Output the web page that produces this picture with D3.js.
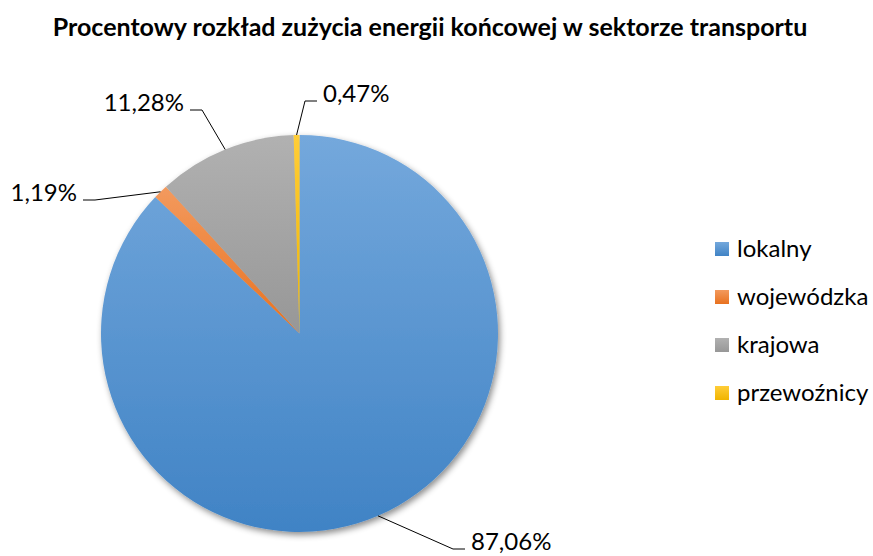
<!DOCTYPE html>
<meta charset="utf-8">
<script src="https://cdn.jsdelivr.net/npm/d3@7"></script>
<style>
  body { margin: 0; background: #fff; }
  text { font-family: Lato, "Liberation Sans", sans-serif; fill: #000; }
</style>
<div id="vis"></div>
<script>
// data
const categories = ["lokalny", "wojewódzka", "krajowa", "przewoźnicy"];
const shares = [87.06, 1.19, 11.28, 0.47];
const labels = ["87,06%", "1,19%", "11,28%", "0,47%"];
const colorTop = ["#74a8dc", "#f39a5e", "#b1b1b1", "#ffcd38"];
const colorBottom = ["#4083c5", "#e8711f", "#979797", "#f0b400"];

const title = "Procentowy rozkład zużycia energii końcowej w sektorze transportu";

const width = 873, height = 556;
const cx = 299.5, cy = 333.5, radius = 198.5;

// label placement: side of the leader and where the text sits
const labelLayout = [
  {side: "right", x: 471, y: 549},
  {side: "left",  x: 77,  y: 200},
  {side: "left",  x: 184, y: 110},
  {side: "right", x: 323, y: 101}
];

const svg = d3.select("#vis").append("svg")
  .attr("width", width)
  .attr("height", height);

const defs = svg.append("defs");

categories.forEach((c, i) => {
  const g = defs.append("linearGradient")
    .attr("id", "grad" + i)
    .attr("x1", 0).attr("y1", 0).attr("x2", 0).attr("y2", 1);
  g.append("stop").attr("offset", "0%").attr("stop-color", colorTop[i]);
  g.append("stop").attr("offset", "100%").attr("stop-color", colorBottom[i]);
});

const shadow = defs.append("filter")
  .attr("id", "shadow")
  .attr("x", "-10%").attr("y", "-10%")
  .attr("width", "125%").attr("height", "125%");
shadow.append("feDropShadow")
  .attr("dx", 2).attr("dy", 3)
  .attr("stdDeviation", 3)
  .attr("flood-color", "#000")
  .attr("flood-opacity", 0.45);

svg.append("text")
  .attr("x", 430)
  .attr("y", 36)
  .attr("text-anchor", "middle")
  .style("font-size", "25px")
  .style("font-weight", "bold")
  .text(title);

const pie = d3.pie().sort(null).value(d => d)(shares);
const arc = d3.arc().innerRadius(0).outerRadius(radius);

const g = svg.append("g").attr("transform", `translate(${cx},${cy})`);

g.append("g")
  .attr("filter", "url(#shadow)")
  .selectAll("path")
  .data(pie)
  .enter()
  .append("path")
  .attr("d", arc)
  .attr("fill", (d, i) => `url(#grad${i})`);

// leader lines + labels
const lab = svg.append("g");
pie.forEach((d, i) => {
  const a = (d.startAngle + d.endAngle) / 2;
  const ex = cx + radius * Math.sin(a);
  const ey = cy - radius * Math.cos(a);
  const L = labelLayout[i];
  const dir = L.side === "right" ? -1 : 1;
  const endX = L.x + dir * 6;
  const elbowX = endX + dir * 12;
  lab.append("polyline")
    .attr("points", [[ex, ey], [elbowX, L.y], [endX, L.y]].map(p => p.join(",")).join(" "))
    .attr("fill", "none")
    .attr("stroke", "#000")
    .attr("stroke-width", 1);
  lab.append("text")
    .attr("x", L.x)
    .attr("y", L.y + 1)
    .attr("text-anchor", L.side === "right" ? "start" : "end")
    .style("font-size", "24px")
    .text(labels[i]);
});

// legend
const legend = svg.append("g").attr("transform", "translate(715,249)");
const item = legend.selectAll("g")
  .data(categories)
  .enter()
  .append("g")
  .attr("transform", (d, i) => `translate(0,${i * 48})`);
item.append("rect")
  .attr("x", 0).attr("y", -7)
  .attr("width", 14).attr("height", 14)
  .attr("fill", (d, i) => `url(#grad${i})`);
item.append("text")
  .attr("x", 22)
  .attr("y", 0)
  .attr("dy", "0.35em")
  .style("font-size", "24px")
  .text(d => d);
</script>
